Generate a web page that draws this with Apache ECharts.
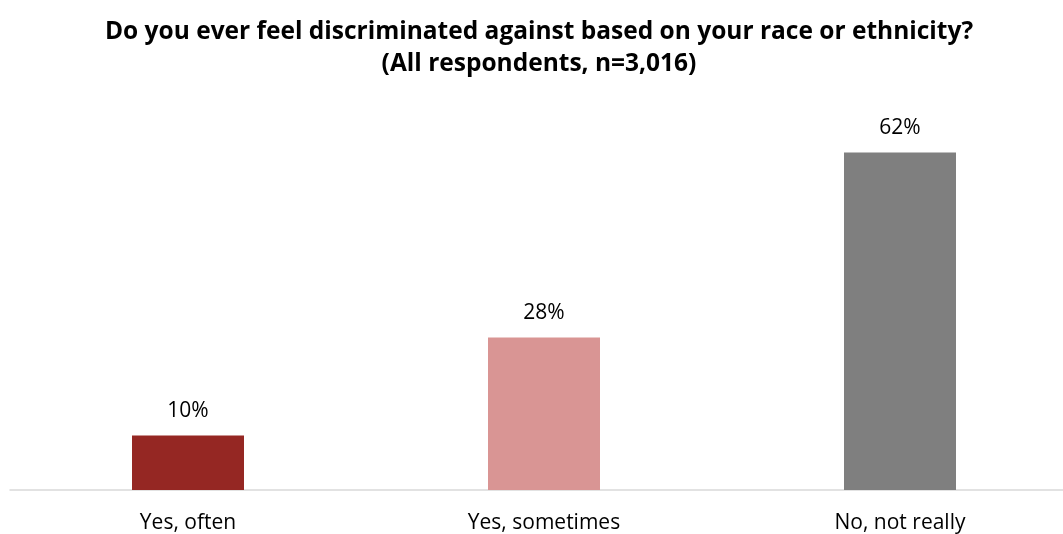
<!DOCTYPE html>
<html>
<head>
<meta charset="utf-8">
<script src="https://cdn.jsdelivr.net/npm/echarts@6/dist/echarts.min.js"></script>
<style>
  html, body { margin: 0; padding: 0; background: #ffffff; overflow: hidden; }
  /* plot area runs slightly past the right edge of the window */
  #chart { width: 1078px; height: 534px; }
</style>
</head>
<body>
<div id="chart"></div>
<script>
// Survey answers and their shares (percent of all respondents)
const categories = ['Yes, often', 'Yes, sometimes', 'No, not really'];
const shares = [10, 28, 62];
const barColors = ['#952723', '#D99594', '#7F7F7F'];
const titleText = 'Do you ever feel discriminated against based on your race or ethnicity?\n(All respondents, n=3,016)';

const font = '"Open Sans", Lato, sans-serif';
const chart = echarts.init(document.getElementById('chart'));

chart.setOption({
  backgroundColor: '#ffffff',
  animation: false,
  title: {
    text: titleText,
    left: 'center',
    top: 11,
    textStyle: {
      fontFamily: font,
      fontWeight: 'bold',
      fontSize: 24.5,
      lineHeight: 32,
      color: '#000000'
    }
  },
  grid: { left: 10, right: 0, top: 109, bottom: 43 },
  xAxis: {
    type: 'category',
    data: categories,
    axisLine: { lineStyle: { color: '#D9D9D9', width: 1.5 } },
    axisTick: { show: false },
    axisLabel: {
      margin: 23,
      fontFamily: font,
      fontSize: 21,
      color: '#000000'
    }
  },
  yAxis: {
    type: 'value',
    min: 0,
    max: 70,
    show: false,
    splitLine: { show: false }
  },
  series: [{
    type: 'bar',
    barWidth: 112,
    data: shares.map((v, i) => ({ value: v, itemStyle: { color: barColors[i] } })),
    label: {
      show: true,
      position: 'top',
      distance: 14,
      formatter: '{c}%',
      fontFamily: font,
      fontSize: 21,
      color: '#000000'
    }
  }]
});
</script>
</body>
</html>
